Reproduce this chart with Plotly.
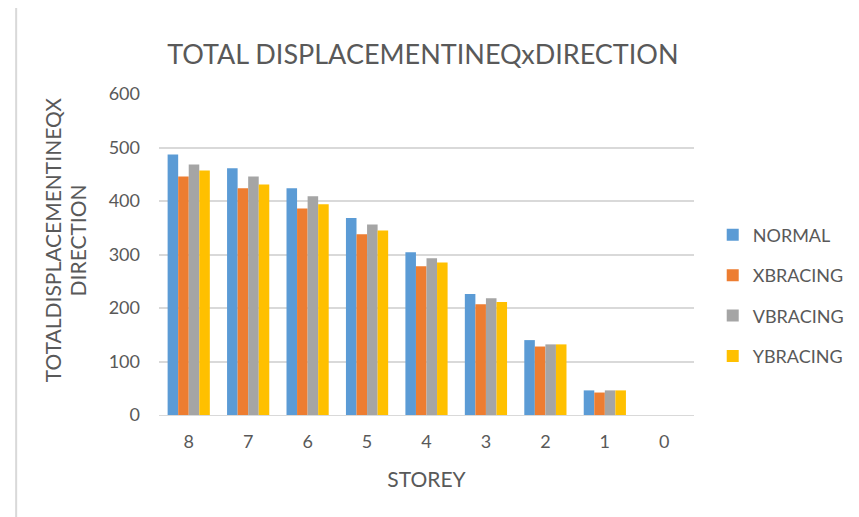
import plotly.graph_objects as go

storeys = ["8", "7", "6", "5", "4", "3", "2", "1", "0"]
normal = [487, 461, 424, 368, 304, 226, 140, 46, None]
xbracing = [446, 424, 386, 338, 278, 207, 128, 42, None]
vbracing = [468, 446, 409, 356, 293, 218, 132, 46, None]
ybracing = [457, 431, 394, 345, 285, 211, 132, 46, None]
ytitle_lines = ["TOTALDISPLACEMENTINEQX", "DIRECTION"]

series = [("NORMAL", normal, "#5B9BD5"), ("XBRACING", xbracing, "#ED7D31"),
          ("VBRACING", vbracing, "#A5A5A5"), ("YBRACING", ybracing, "#FFC000")]

font = "Lato, sans-serif"
fig = go.Figure()
for name, vals, col in series:
    fig.add_trace(go.Bar(x=storeys, y=vals, name=name, marker_color=col,
                         marker_line_width=0, legendgroup=name))

annots = []
for txt, xp in zip(ytitle_lines, [-0.199, -0.152]):
    annots.append(dict(text=txt, textangle=-90, xref="paper", yref="paper", x=xp, y=0.543,
                       xanchor="center", yanchor="middle", showarrow=False,
                       font=dict(family=font, size=21, color="#595959")))

fig.update_layout(
    width=859, height=517, barmode="group", bargap=0.29, bargroupgap=0,
    plot_bgcolor="white", paper_bgcolor="white",
    margin=dict(l=151, r=173, t=86, b=110),
    title=dict(text="TOTAL DISPLACEMENTINEQxDIRECTION", x=0.483, xanchor="center",
               y=0.909, yanchor="middle", font=dict(family=font, size=27, color="#595959")),
    legend=dict(x=1.035, xanchor="left", y=0.372, yanchor="middle", tracegroupgap=14,
                font=dict(family=font, size=18, color="#595959"), itemwidth=30),
    font=dict(family=font, color="#595959"),
    annotations=annots,
    shapes=[dict(type="rect", xref="paper", yref="paper", x0=-0.267, x1=1.35, y0=-0.36, y1=1.28,
                 line=dict(color="#D9D9D9", width=2), fillcolor="rgba(0,0,0,0)", layer="below")],
)
fig.update_xaxes(title=dict(text="STOREY", font=dict(family=font, size=21, color="#595959"), standoff=21),
                 tickfont=dict(family=font, size=18, color="#595959"), showline=True,
                 ticklabelstandoff=10,
                 linecolor="#D9D9D9", linewidth=1, ticks="")
fig.update_yaxes(range=[0, 600], dtick=100, gridcolor="#D9D9D9", gridwidth=1.5, zeroline=False,
                 ticklabelstandoff=18,
                 tickfont=dict(family=font, size=18, color="#595959"), ticks="")
fig.write_html("out.html")
